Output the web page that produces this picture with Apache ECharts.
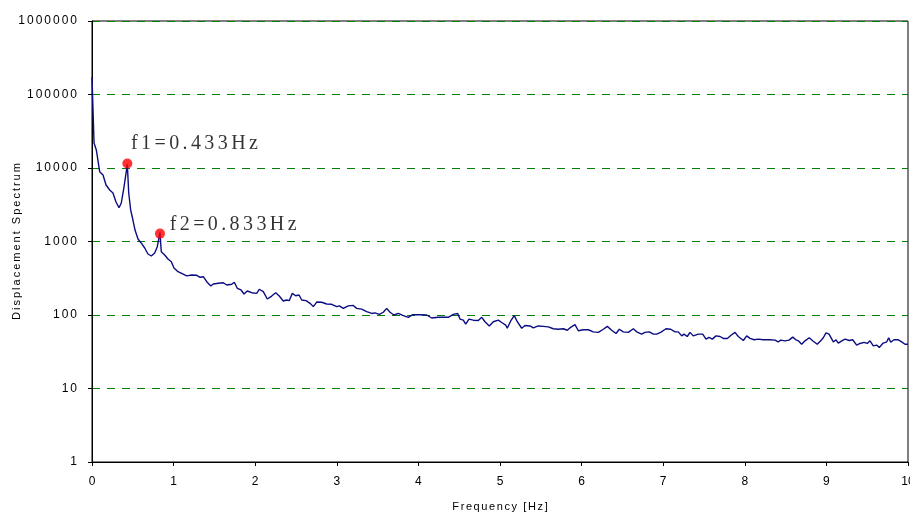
<!DOCTYPE html>
<html>
<head>
<meta charset="utf-8">
<script src="https://cdn.jsdelivr.net/npm/echarts@6/dist/echarts.min.js"></script>
<style>html,body{margin:0;padding:0;background:#fff}#c{width:910px;height:515px}</style>
</head>
<body>
<div id="c"></div>
<script>
const freq = [
 0, 0.025, 0.053, 0.094, 0.135, 0.172, 0.217, 0.257, 0.294, 0.331,
 0.359, 0.392, 0.433, 0.450, 0.474, 0.502, 0.527, 0.564, 0.600, 0.646,
 0.686, 0.727, 0.768, 0.800, 0.833, 0.849, 0.891, 0.931, 0.972, 1.005,
 1.054, 1.078, 1.161, 1.222, 1.283, 1.324, 1.364, 1.406, 1.455, 1.487,
 1.548, 1.609, 1.651, 1.712, 1.744, 1.781, 1.826, 1.863, 1.903, 1.957,
 2.018, 2.050, 2.099, 2.148, 2.202, 2.251, 2.295, 2.344, 2.386, 2.418,
 2.455, 2.496, 2.537, 2.570, 2.623, 2.672, 2.712, 2.754, 2.815, 2.876,
 2.938, 2.999, 3.031, 3.080, 3.141, 3.202, 3.244, 3.305, 3.366, 3.428,
 3.468, 3.521, 3.570, 3.611, 3.652, 3.701, 3.754, 3.808, 3.876, 3.930,
 4.020, 4.102, 4.163, 4.244, 4.366, 4.428, 4.482, 4.510, 4.550, 4.580,
 4.620, 4.673, 4.734, 4.776, 4.816, 4.869, 4.918, 4.979, 5.021, 5.070,
 5.089, 5.131, 5.175, 5.212, 5.266, 5.306, 5.368, 5.408, 5.469, 5.531,
 5.592, 5.653, 5.714, 5.776, 5.825, 5.866, 5.919, 5.960, 6.021, 6.082,
 6.143, 6.205, 6.266, 6.315, 6.369, 6.422, 6.462, 6.511, 6.572, 6.634,
 6.675, 6.736, 6.777, 6.830, 6.879, 6.920, 6.969, 7.034, 7.092, 7.145,
 7.185, 7.227, 7.255, 7.295, 7.328, 7.369, 7.430, 7.484, 7.525, 7.561,
 7.602, 7.647, 7.696, 7.737, 7.786, 7.831, 7.880, 7.920, 7.982, 8.023,
 8.064, 8.113, 8.165, 8.227, 8.309, 8.370, 8.410, 8.440, 8.493, 8.542,
 8.587, 8.627, 8.656, 8.697, 8.738, 8.790, 8.839, 8.888, 8.930, 8.962,
 8.995, 9.032, 9.056, 9.085, 9.118, 9.146, 9.188, 9.228, 9.281, 9.322,
 9.371, 9.412, 9.461, 9.501, 9.534, 9.575, 9.616, 9.648, 9.690, 9.739,
 9.763, 9.788, 9.828, 9.881, 9.923, 9.963, 10.000
];
const spectrum = [
 173000, 21900, 17600, 8900, 8030, 5870, 5020, 4570, 3450, 2880,
 3340, 5510, 11200, 4570, 2680, 1960, 1430, 1080, 963, 816,
 676, 635, 698, 850, 1330, 727, 655, 578, 531, 436,
 388, 381, 340, 350, 347, 326, 332, 284, 248, 264,
 270, 275, 256, 262, 279, 231, 219, 193, 212, 201,
 197, 224, 208, 165, 181, 201, 181, 155, 160, 157,
 197, 183, 187, 160, 157, 144, 130, 150, 149, 141,
 140, 130, 133, 123, 133, 135, 123, 120, 111, 105,
 107, 102, 109, 123, 109, 100, 105, 99, 93, 101,
 101, 100, 91, 93, 93, 102, 105, 88, 85, 75,
 88, 85, 84, 93, 81, 71, 81, 85, 79, 73,
 66, 83, 98, 81, 66, 72, 71, 67, 71, 70,
 69, 65, 64, 65, 62, 68, 74, 61, 63, 63,
 59, 58, 64, 70, 62, 56, 64, 59, 58, 65,
 59, 55, 58, 59, 55, 55, 58, 65, 64, 59,
 59, 52, 55, 51, 58, 52, 55, 55, 47, 49.5,
 47, 52, 51, 48, 48, 53, 58, 51, 45, 52,
 48, 46, 47, 46, 46, 45.5, 43, 45.5, 44.5, 45.5,
 50, 46, 44.5, 40, 44.5, 49, 44, 40, 44.5, 49,
 57, 55, 58, 43, 46, 41.5, 44.5, 47, 45, 46,
 39, 41, 42.5, 41, 44.5, 38, 39, 36, 41, 43,
 49, 42.5, 46, 46, 43, 40, 40
];
const peakFreq = [0.433, 0.833];
const peakValue = [11500, 1280];
const peakLabels = ['f1=0.433Hz', 'f2=0.833Hz'];
const xTickLabels = ['0','1','2','3','4','5','6','7','8','9','10'];
const yTickLabels = ['1','10','100','1000','10000','100000','1000000'];
const xTitle = 'Frequency [Hz]';
const yTitle = 'Displacement Spectrum';

// spread characters like the original renderer (real text, per-character rich fragments)
function spaced(str, key) {
  return str.split('').map(function (c) { return '{' + key + '|' + c + '}'; }).join('');
}

const chart = echarts.init(document.getElementById('c'), null, { renderer: 'canvas' });
const lineData = freq.map(function (f, i) { return [f, spectrum[i]]; });
const labelOffsets = [[7, -14.5], [13, -3.6]];
const peakData = peakFreq.map(function (f, i) {
  return {
    value: [f, peakValue[i]],
    label: {
      show: true,
      position: labelOffsets[i],
      align: 'left',
      verticalAlign: 'middle',
      formatter: spaced(peakLabels[i], 'p'),
      rich: { p: { fontFamily: 'Liberation Serif', fontSize: 20, color: '#000', padding: [0, 1.7, 0, 1.7] } }
    }
  };
});

chart.setOption({
  animation: false,
  backgroundColor: '#fff',
  grid: { left: 92, right: 2, top: 21, bottom: 53, show: true, borderColor: '#000', borderWidth: 1, outerBoundsMode: 'none', containLabel: false },
  xAxis: {
    type: 'value', min: 0, max: 10, interval: 1,
    axisLine: { show: true, lineStyle: { color: '#000', width: 1 } },
    axisTick: { show: true, inside: false, length: 4, lineStyle: { color: '#000' } },
    splitLine: { show: false },
    axisLabel: {
      margin: 14, color: '#000', fontFamily: 'Liberation Sans', fontSize: 12,
      formatter: function (v) { return xTickLabels[Math.round(v)]; }
    },
    name: spaced(xTitle, 'n'), nameLocation: 'middle', nameGap: 39, nameMoveOverlap: false,
    nameTextStyle: { rich: { n: { fontFamily: 'Liberation Sans', fontSize: 11, color: '#000', padding: [0, 0.8, 0, 0.8] } } }
  },
  yAxis: {
    type: 'log', logBase: 10, min: 1, max: 1000000,
    axisLine: { show: true, lineStyle: { color: '#000', width: 1 } },
    axisTick: { show: true, inside: false, length: 4, lineStyle: { color: '#000' } },
    splitLine: { show: true, lineStyle: { color: '#008000', type: [8, 7], width: 1 } },
    minorTick: { show: false }, minorSplitLine: { show: false },
    axisLabel: {
      margin: 14, color: '#000',
      formatter: function (v) { return spaced(yTickLabels[Math.round(Math.log10(v))], 'y'); },
      rich: { y: { fontFamily: 'Liberation Sans', fontSize: 12, color: '#000', padding: [0, 1, 0, 1] } }
    },
    name: spaced(yTitle, 'n'), nameLocation: 'middle', nameGap: 70, nameRotate: 90, nameMoveOverlap: false,
    nameTextStyle: { rich: { n: { fontFamily: 'Liberation Sans', fontSize: 11, color: '#000', padding: [0, 1, 0, 1] } } }
  },
  series: [
    {
      type: 'line', data: lineData, showSymbol: false, symbol: 'none',
      lineStyle: { color: '#0c0c82', width: 1.4 }, z: 3
    },
    {
      type: 'scatter', data: peakData, symbol: 'circle', symbolSize: 10,
      itemStyle: { color: '#ff0000' }, z: 4
    }
  ]
});
</script>
</body>
</html>
